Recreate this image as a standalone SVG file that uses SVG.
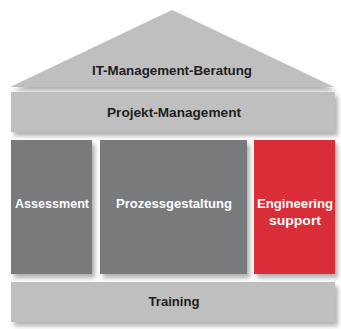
<svg xmlns="http://www.w3.org/2000/svg" width="341" height="329" viewBox="0 0 341 329">
<defs>
<filter id="sh" x="-10%" y="-10%" width="125%" height="140%">
<feDropShadow dx="3" dy="4" stdDeviation="2" flood-color="#000" flood-opacity="0.3"/>
</filter>
<style>
.light{fill:#bfbfbf;filter:url(#sh)}
.dark{fill:#797a7c;filter:url(#sh)}
.red{fill:#d92e37;filter:url(#sh)}
.t{font-family:"Liberation Sans",Arial,sans-serif;font-weight:bold;font-size:12px;text-anchor:middle;dominant-baseline:central}
.td{fill:#1e1e1e}
.tw{fill:#ffffff}
</style>
</defs>
<rect width="341" height="329" fill="#ffffff"/>
<g id="roof">
<polygon class="light" points="172,10 334,87 10,87"/>
<text class="t td" x="172" y="71" textLength="160" lengthAdjust="spacingAndGlyphs">IT-Management-Beratung</text>
</g>
<g id="projekt">
<rect class="light" x="11" y="92" width="324" height="40"/>
<text class="t td" x="174" y="113" textLength="134" lengthAdjust="spacingAndGlyphs">Projekt-Management</text>
</g>
<g id="assessment">
<rect class="dark" x="11" y="140" width="81" height="134"/>
<text class="t tw" x="52" y="204" textLength="74" lengthAdjust="spacingAndGlyphs">Assessment</text>
</g>
<g id="prozess">
<rect class="dark" x="100" y="140" width="147" height="134"/>
<text class="t tw" x="174" y="204" textLength="116" lengthAdjust="spacingAndGlyphs">Prozessgestaltung</text>
</g>
<g id="engineering">
<rect class="red" x="254" y="140" width="81" height="134"/>
<text class="t tw" x="295" y="204" textLength="76" lengthAdjust="spacingAndGlyphs">Engineering</text>
<text class="t tw" x="295" y="221" textLength="52" lengthAdjust="spacingAndGlyphs">support</text>
</g>
<g id="training">
<rect class="light" x="11" y="282" width="324" height="40"/>
<text class="t td" x="174" y="302" textLength="51" lengthAdjust="spacingAndGlyphs">Training</text>
</g>
<g id="connectors"></g>
</svg>
